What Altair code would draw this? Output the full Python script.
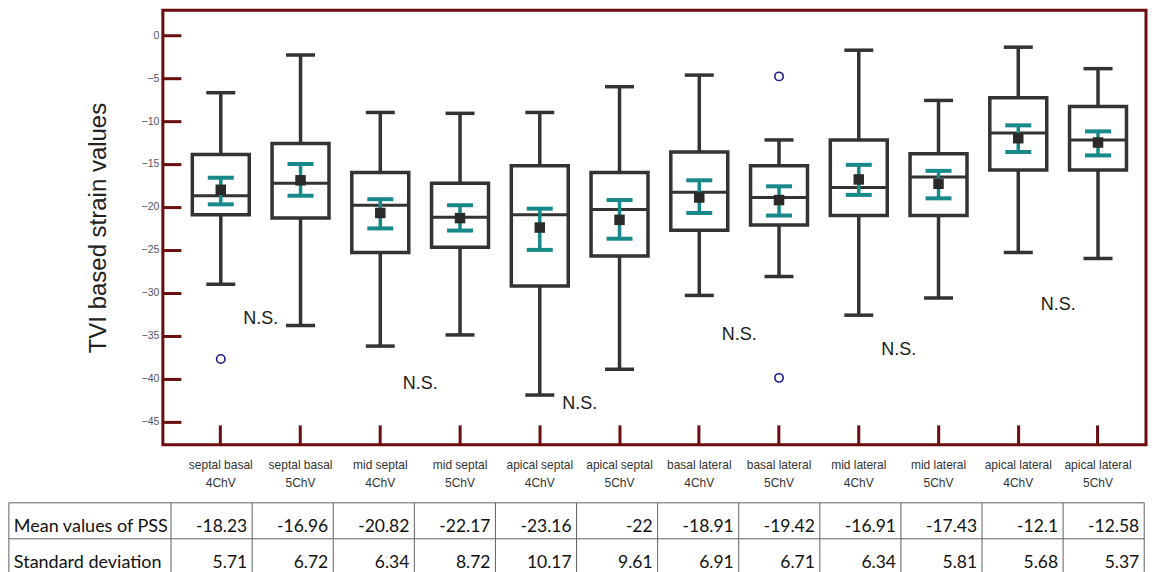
import altair as alt
import pandas as pd

categories = ["septal basal 4ChV", "septal basal 5ChV", "mid septal 4ChV", "mid septal 5ChV",
              "apical septal 4ChV", "apical septal 5ChV", "basal lateral 4ChV", "basal lateral 5ChV",
              "mid lateral 4ChV", "mid lateral 5ChV", "apical lateral 4ChV", "apical lateral 5ChV"]
whisker_low = [-29.0, -33.8, -36.2, -34.9, -41.9, -38.9, -30.3, -28.1, -32.6, -30.6, -25.3, -26.0]
q1 = [-20.9, -21.3, -25.3, -24.7, -29.2, -25.7, -22.7, -22.1, -21.0, -21.0, -15.7, -15.7]
median = [-18.7, -17.25, -19.8, -21.2, -20.9, -20.3, -18.3, -18.9, -17.75, -16.5, -11.4, -12.2]
q3 = [-13.9, -12.6, -16.0, -17.25, -15.2, -16.0, -13.6, -15.2, -12.2, -13.8, -7.3, -8.3]
whisker_high = [-6.7, -2.3, -9.0, -9.1, -9.0, -6.0, -4.65, -12.2, -1.75, -7.6, -1.4, -3.9]
mean = [-18.0, -16.9, -20.7, -21.3, -22.4, -21.5, -18.9, -19.2, -16.8, -17.3, -12.0, -12.5]
ci_low = [-19.7, -18.7, -22.5, -22.75, -25.0, -23.7, -20.7, -21.0, -18.6, -19.0, -13.6, -14.0]
ci_high = [-16.6, -15.0, -19.1, -19.8, -20.2, -19.2, -16.9, -17.6, -15.1, -15.8, -10.5, -11.2]

outlier_cat = ["septal basal 4ChV", "basal lateral 5ChV", "basal lateral 5ChV"]
outlier_val = [-37.7, -4.8, -39.9]

ns_cat = ["septal basal 4ChV", "mid septal 4ChV", "apical septal 4ChV",
          "basal lateral 4ChV", "mid lateral 4ChV", "apical lateral 4ChV"]
ns_val = [-33.1, -40.6, -43.0, -34.9, -36.6, -31.4]

table_rows = ["Mean values of PSS", "Standard deviation"]
mean_pss = [-18.23, -16.96, -20.82, -22.17, -23.16, -22, -18.91, -19.42, -16.91, -17.43, -12.1, -12.58]
std_dev = [5.71, 6.72, 6.34, 8.72, 10.17, 9.61, 6.91, 6.71, 6.34, 5.81, 5.68, 5.37]

y_ticks = [0, -5, -10, -15, -20, -25, -30, -35, -40, -45]

DARKRED = "#6b0d0d"
BOX = "#333333"
TEAL = "#17898a"
SANS = "Liberation Sans, Arial, sans-serif"
TABLEFONT = "Lato, Open Sans, sans-serif"

box_df = pd.DataFrame({
    "cat": categories, "lo": whisker_low, "q1": q1, "med": median, "q3": q3,
    "hi": whisker_high, "mean": mean, "cil": ci_low, "cih": ci_high,
})
out_df = pd.DataFrame({"cat": outlier_cat, "v": outlier_val})
ns_df = pd.DataFrame({"cat": ns_cat, "v": ns_val, "t": ["N.S."] * len(ns_cat)})

x_enc = alt.X("cat:N", sort=categories, title=None,
              scale=alt.Scale(type="band", paddingInner=0, paddingOuter=0.164, align=0.69),
              axis=alt.Axis(offset=-20, tickSize=20, tickWidth=3, tickColor=DARKRED,
                            domain=False, labelPadding=15, labelAngle=0,
                            labelFont=SANS, labelFontSize=12, labelColor="#333333",
                            labelLineHeight=18, labelBaseline="top",
                            labelExpr="[slice(datum.label, 0, lastindexof(datum.label, ' ')), slice(datum.label, lastindexof(datum.label, ' ') + 1)]"))
y_scale = alt.Scale(domain=[-47.7, 2.9], nice=False, zero=False)
y_axis = alt.Axis(values=y_ticks, offset=-18, tickSize=18, tickWidth=3, tickColor=DARKRED,
                  domain=False, grid=False, labelPadding=4, labelFont=SANS,
                  labelFontSize=10.5, labelColor="#555566",
                  title="TVI based strain values", titleFont=SANS,
                  titleFontSize=24, titleFontWeight="normal", titleColor="#222222",
                  titlePadding=31)

base = alt.Chart(box_df).encode(x=x_enc)

whisk = base.mark_rule(color=BOX, strokeWidth=3.5).encode(
    y=alt.Y("lo:Q", scale=y_scale, axis=y_axis), y2="hi:Q")
caps_lo = base.mark_tick(color=BOX, size=29, thickness=3.5, opacity=1).encode(y="lo:Q")
caps_hi = base.mark_tick(color=BOX, size=29, thickness=3.5, opacity=1).encode(y="hi:Q")
box = base.mark_bar(size=57, fill="white", stroke=BOX, strokeWidth=3.5).encode(y="q1:Q", y2="q3:Q")
med = base.mark_tick(color=BOX, size=58, thickness=3, opacity=1).encode(y="med:Q")
ci = base.mark_rule(color=TEAL, strokeWidth=3.5).encode(y="cil:Q", y2="cih:Q")
ci_lo = base.mark_tick(color=TEAL, size=26, thickness=4, opacity=1).encode(y="cil:Q")
ci_hi = base.mark_tick(color=TEAL, size=26, thickness=4, opacity=1).encode(y="cih:Q")
mn = base.mark_square(size=110, color="#2a2a2a", opacity=1).encode(y="mean:Q")

outl = alt.Chart(out_df).mark_point(shape="circle", filled=False, size=70, color="#1c1c8c",
                                     strokeWidth=1.6, opacity=1).encode(
    x=alt.X("cat:N", sort=categories), y="v:Q")
ns = alt.Chart(ns_df).mark_text(font=SANS, fontSize=18, color="#1a1a1a", dx=40,
                                 baseline="middle", align="center").encode(
    x=alt.X("cat:N", sort=categories), y="v:Q", text="t:N")

plot = alt.layer(whisk, caps_lo, caps_hi, box, med, ci, ci_lo, ci_hi, mn, outl, ns).properties(
    width=984, height=435,
    view=alt.ViewBackground(stroke=DARKRED, strokeWidth=3, fill="white"))

# ---- table below the chart ----
cells = []
for i, c in enumerate(categories):
    cells.append({"col": i, "row": 0, "txt": str(mean_pss[i])})
    cells.append({"col": i, "row": 1, "txt": str(std_dev[i])})
cell_df = pd.DataFrame(cells)
head_df = pd.DataFrame({"row": [0, 1], "txt": table_rows})
ncol = len(categories)
vlines = pd.DataFrame({"x": [-2] + list(range(0, ncol + 1))})
hlines = pd.DataFrame({"y": [0, 1, 2]})

tx = alt.Scale(domain=[-0.101, 12.022], nice=False, zero=False)
ty = alt.Scale(domain=[0, 2], reverse=True, nice=False, zero=False)

vl = alt.Chart(vlines).mark_rule(color="#606060", strokeWidth=1).encode(
    x=alt.X("x:Q", scale=tx, axis=None), y=alt.datum(0, scale=ty, axis=None), y2=alt.datum(2))
hl = alt.Chart(hlines).mark_rule(color="#606060", strokeWidth=1).encode(
    y=alt.Y("y:Q", scale=ty, axis=None), x=alt.datum(-2), x2=alt.datum(ncol))
cell_txt = alt.Chart(cell_df).transform_calculate(
    xr="datum.col + 1", yc="datum.row + 0.5").mark_text(
    font=TABLEFONT, fontSize=17.5, color="#111111", align="right", baseline="alphabetic",
    dx=-5, dy=11).encode(
    x="xr:Q", y="yc:Q", text="txt:N")
head_txt = alt.Chart(head_df).transform_calculate(
    xl="-2", yc="datum.row + 0.5").mark_text(
    font=TABLEFONT, fontSize=18, color="#111111", align="left",
    baseline="alphabetic", dx=5, dy=11).encode(
    x="xl:Q", y="yc:Q", text="txt:N")

table = alt.layer(vl, hl, cell_txt, head_txt).properties(
    width=984, height=72, view=alt.ViewBackground(strokeWidth=0))

chart = alt.vconcat(plot, table, spacing=58, bounds="flush").properties(
    padding={"left": 0, "top": 0, "right": 0, "bottom": 0}
).configure_view(strokeWidth=0)

chart.save("out.html", embed_options={"renderer": "svg", "actions": False})
